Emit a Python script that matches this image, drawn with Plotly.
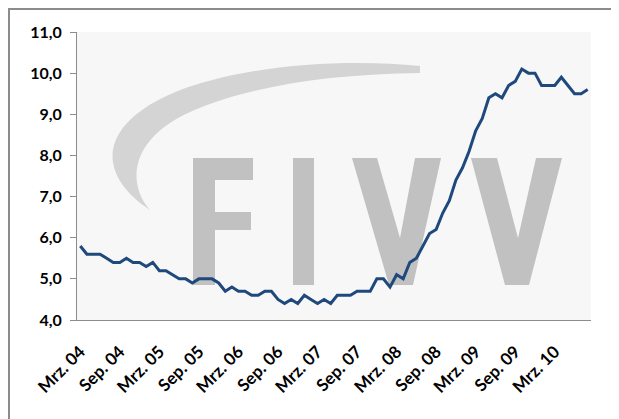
import plotly.graph_objects as go

# ---------------- data ----------------
month_names = ["Jan.", "Feb.", "Mrz.", "Apr.", "Mai", "Jun.", "Jul.", "Aug.", "Sep.", "Okt.", "Nov.", "Dez."]
start_year = 2004
start_month = 3  # March 2004
n_months = 78     # Mar 2004 .. Aug 2010

values = [
    5.8, 5.6, 5.6, 5.6, 5.5, 5.4, 5.4, 5.5, 5.4, 5.4, 5.3, 5.4,   # Mar04-Feb05
    5.2, 5.2, 5.1, 5.0, 5.0, 4.9, 5.0, 5.0, 5.0, 4.9, 4.7, 4.8,   # Mar05-Feb06
    4.7, 4.7, 4.6, 4.6, 4.7, 4.7, 4.5, 4.4, 4.5, 4.4, 4.6, 4.5,   # Mar06-Feb07
    4.4, 4.5, 4.4, 4.6, 4.6, 4.6, 4.7, 4.7, 4.7, 5.0, 5.0, 4.8,   # Mar07-Feb08
    5.1, 5.0, 5.4, 5.5, 5.8, 6.1, 6.2, 6.6, 6.9, 7.4, 7.7, 8.1,   # Mar08-Feb09
    8.6, 8.9, 9.4, 9.5, 9.4, 9.7, 9.8, 10.1, 10.0, 10.0, 9.7, 9.7, # Mar09-Feb10
    9.7, 9.9, 9.7, 9.5, 9.5, 9.6,                                  # Mar10-Aug10
]

categories = []
for i in range(n_months):
    m = (start_month - 1 + i) % 12
    y = start_year + (start_month - 1 + i) // 12
    categories.append(f"{month_names[m]} {y % 100:02d}")

tick_labels = categories[::6]

y_min, y_max, y_step = 4, 11, 1

# ---------------- geometry helpers (decoration) ----------------
OFF = 8  # page body margin
W, H = 619, 419
L = 77 - OFF
T = 32 - OFF
R = W - (591 - OFF)
B = H - (320 - OFF)
PW = W - L - R
PH = H - T - B


def px(x):
    return (x - OFF - L) / PW


def py(y):
    return (H - B - (y - OFF)) / PH


def poly(points):
    return "M " + " L ".join(f"{px(x):.4f},{py(y):.4f}" for x, y in points) + " Z"


def p(x, y):
    return f"{px(x):.4f},{py(y):.4f}"


letter_color = "#C0C1C0"
swoosh_color = "#D4D4D4"

shapes = []
# outer frame
shapes.append(dict(type="rect", xref="paper", yref="paper",
                   x0=px(9), x1=px(660), y0=py(9), y1=py(460),
                   line=dict(color="#8C8C8C", width=2), fillcolor="rgba(0,0,0,0)", layer="below"))

# swoosh
swoosh = ("M " + p(420, 66) + " C " + p(330, 57) + " " + p(205, 68) + " " + p(145, 108)
          + " C " + p(100, 138) + " " + p(102, 178) + " " + p(150, 210)
          + " C " + p(128, 185) + " " + p(130, 145) + " " + p(178, 118)
          + " C " + p(235, 88) + " " + p(325, 74) + " " + p(420, 73) + " Z")
shapes.append(dict(type="path", xref="paper", yref="paper", path=swoosh,
                   fillcolor=swoosh_color, line=dict(width=0), layer="below"))

# F I V V
F = [(193, 158), (253, 158), (253, 180), (215, 180), (215, 212), (251, 212),
     (251, 230), (215, 230), (215, 285), (193, 285)]
I = [(293, 158), (314, 158), (314, 285), (293, 285)]
V1 = [(352, 158), (377, 158), (400, 238), (415, 158), (441, 158), (413, 285), (389, 285)]
V2 = [(471, 158), (497, 158), (518, 238), (536, 158), (562, 158), (529, 285), (505, 285)]
for pts in (F, I, V1, V2):
    shapes.append(dict(type="path", xref="paper", yref="paper", path=poly(pts),
                       fillcolor=letter_color, line=dict(width=0), layer="below"))

# ---------------- figure ----------------
font_y = dict(family="Lato, Open Sans, sans-serif", size=16, color="#000000", weight="bold")
font_x = dict(family="Lato, Open Sans, sans-serif", size=17, color="#000000", weight="bold")
axis_grey = "#8C8C8C"

fig = go.Figure()
fig.add_trace(go.Scatter(x=categories, y=values, mode="lines",
                         line=dict(color="#1F497D", width=3), hoverinfo="skip"))

fig.update_layout(
    width=W, height=H,
    margin=dict(l=L, r=R, t=T, b=B, pad=0),
    paper_bgcolor="#FFFFFF",
    plot_bgcolor="#F7F7F7",
    separators=",.",
    showlegend=False,
    shapes=shapes,
    xaxis=dict(type="category", categoryorder="array", categoryarray=categories,
               range=[-0.5, n_months - 0.5],
               tickmode="array", tickvals=tick_labels, ticktext=tick_labels,
               ticks="", tickangle=-45, tickfont=font_x,
               showline=True, linecolor=axis_grey, linewidth=1,
               showgrid=False, zeroline=False, ticklabelstandoff=14),
    xaxis2=dict(overlaying="x", anchor="y", side="bottom",
                range=[-0.5, n_months - 0.5], tickmode="linear", tick0=-0.5, dtick=6,
                ticks="outside", ticklen=6, tickcolor=axis_grey, tickwidth=1,
                showticklabels=False, showgrid=False, zeroline=False, showline=False),
    yaxis=dict(range=[y_min, y_max], tickmode="linear", tick0=y_min, dtick=y_step,
               tickformat=".1f", ticks="outside", ticklen=6, tickcolor=axis_grey,
               showline=True, linecolor=axis_grey, linewidth=1,
               showgrid=False, zeroline=False, tickfont=font_y, ticklabelstandoff=5),
)

fig.write_html("out.html")
